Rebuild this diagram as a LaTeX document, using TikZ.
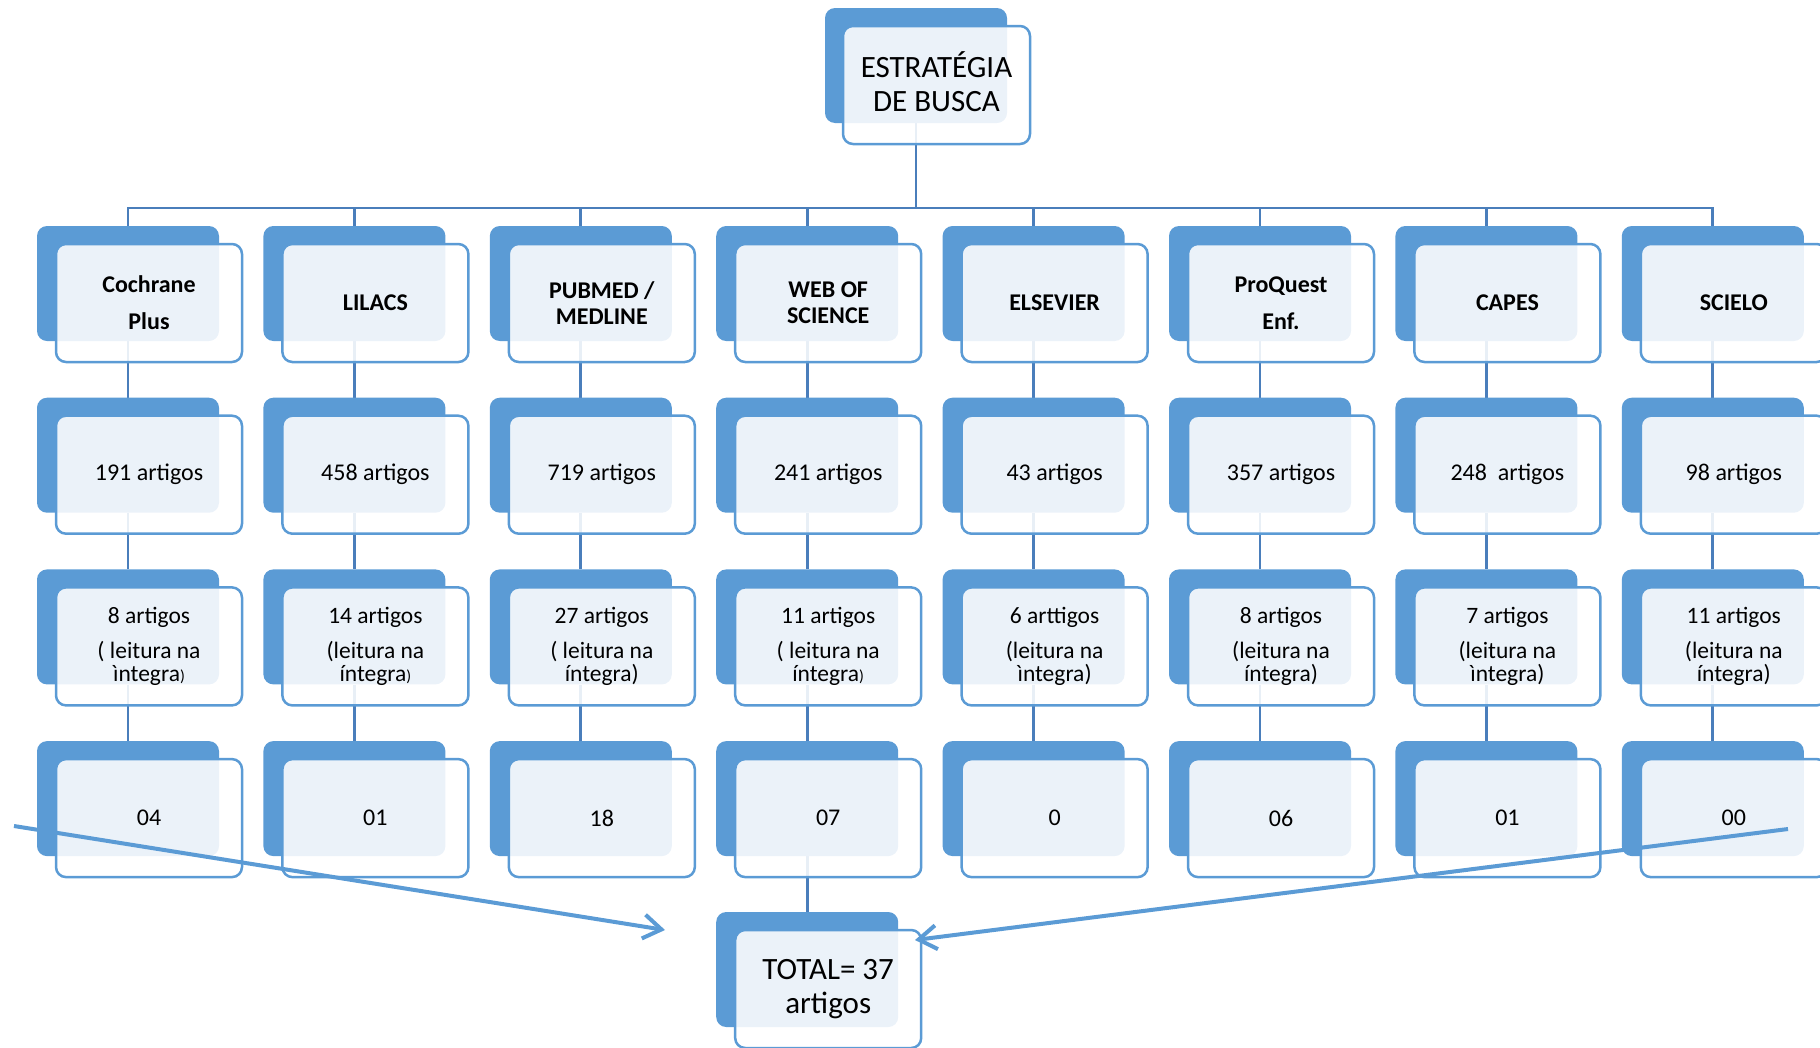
\documentclass[tikz,border=0pt]{standalone}
\usepackage{fontspec}
\setmainfont{Carlito}
\usetikzlibrary{arrows.meta}
\definecolor{boxblue}{RGB}{91,155,213}
\definecolor{linkblue}{RGB}{74,126,187}
\pgfdeclarelayer{bg}
\pgfsetlayers{bg,main}
\tikzset{
  backbox/.style={fill=boxblue, draw=none, rounded corners=10pt, minimum width=182pt, minimum height=115pt, inner sep=0pt},
  frontbox/.style={draw=boxblue, line width=2.5pt, fill=white, fill opacity=0.88, text opacity=1, draw opacity=1,
    rounded corners=10pt, minimum width=186pt, minimum height=118pt, inner sep=0pt, align=center, text=black},
  link/.style={draw=linkblue, line width=2.8pt},
  bigarrow/.style={draw=boxblue, line width=4pt, -{Straight Barb[length=18pt,width=24pt,line width=4pt]}},
  dbwide/.style={font={\fontsize{24}{36.7}\selectfont\bfseries}},
  dbtight/.style={font={\fontsize{24}{25.7}\selectfont\bfseries}},
  countfont/.style={font={\fontsize{24}{29}\selectfont}},
  readfont/.style={font={\fontsize{23.5}{23}\selectfont}},
  bigfont/.style={font={\fontsize{31}{34}\selectfont}},
}
\newcommand\mkbox[5]{%
  \node[backbox] (#1-b) at (#2,#3) {};
  \node[frontbox,#4] (#1) at ([xshift=21pt,yshift=-19.5pt]#1-b.center) {#5};
}
\newcommand\smp{{\fontsize{16}{16}\selectfont)}}
\begin{document}
\begin{tikzpicture}[x=1pt,y=-1pt]
\useasboundingbox (0,0) rectangle (1820,1047);
% top box
\node[backbox] (top-b) at (916,65.5) {};
\node[frontbox,bigfont,minimum width=187pt] (top) at ([xshift=20.5pt,yshift=-19.5pt]top-b.center) {ESTRATÉGIA\\DE BUSCA\\[-27pt]\mbox{}};
\coordinate (bar) at (916,208);
% row 1
\mkbox{c1r1}{128}{283.5}{dbwide}{Cochrane\\Plus}
\mkbox{c2r1}{354.4}{283.5}{dbwide}{LILACS}
\mkbox{c3r1}{580.8}{283.5}{dbtight}{PUBMED /\\MEDLINE}
\mkbox{c4r1}{807.2}{283.5}{dbtight}{WEB OF\\SCIENCE}
\mkbox{c5r1}{1033.6}{283.5}{dbwide}{ELSEVIER}
\mkbox{c6r1}{1260}{283.5}{dbwide}{ProQuest\\Enf.}
\mkbox{c7r1}{1486.4}{283.5}{dbwide}{CAPES}
\mkbox{c8r1}{1712.8}{283.5}{dbwide}{SCIELO}
% row 2
\mkbox{c1r2}{128}{455.2}{countfont}{191 artigos}
\mkbox{c2r2}{354.4}{455.2}{countfont}{458 artigos}
\mkbox{c3r2}{580.8}{455.2}{countfont}{719 artigos}
\mkbox{c4r2}{807.2}{455.2}{countfont}{241 artigos}
\mkbox{c5r2}{1033.6}{455.2}{countfont}{43 artigos}
\mkbox{c6r2}{1260}{455.2}{countfont}{357 artigos}
\mkbox{c7r2}{1486.4}{455.2}{countfont}{248~~artigos}
\mkbox{c8r2}{1712.8}{455.2}{countfont}{98 artigos}
% row 3
\mkbox{c1r3}{128}{626.9}{readfont}{8 artigos\\[12.3pt]( leitura na\\ìntegra\smp}
\mkbox{c2r3}{354.4}{626.9}{readfont}{14 artigos\\[12.3pt](leitura na\\íntegra\smp}
\mkbox{c3r3}{580.8}{626.9}{readfont}{27 artigos\\[12.3pt]( leitura na\\íntegra)}
\mkbox{c4r3}{807.2}{626.9}{readfont}{11 artigos\\[12.3pt]( leitura na\\íntegra\smp}
\mkbox{c5r3}{1033.6}{626.9}{readfont}{6 arttigos\\[12.3pt](leitura na\\ìntegra)}
\mkbox{c6r3}{1260}{626.9}{readfont}{8 artigos\\[12.3pt](leitura na\\íntegra)}
\mkbox{c7r3}{1486.4}{626.9}{readfont}{7 artigos\\[12.3pt](leitura na\\ìntegra)}
\mkbox{c8r3}{1712.8}{626.9}{readfont}{11 artigos\\[12.3pt](leitura na\\íntegra)}
% row 4
\mkbox{c1r4}{128}{798.6}{countfont}{04}
\mkbox{c2r4}{354.4}{798.6}{countfont}{01}
\mkbox{c3r4}{580.8}{798.6}{countfont}{18}
\mkbox{c4r4}{807.2}{798.6}{countfont}{07}
\mkbox{c5r4}{1033.6}{798.6}{countfont}{0}
\mkbox{c6r4}{1260}{798.6}{countfont}{06}
\mkbox{c7r4}{1486.4}{798.6}{countfont}{01}
\mkbox{c8r4}{1712.8}{798.6}{countfont}{00}
% total
\node[backbox] (total-b) at (807.2,969.5) {};
\node[frontbox,bigfont] (total) at ([xshift=21pt,yshift=-19.5pt]total-b.center) {TOTAL= 37\\artigos};
% connectors
\begin{pgfonlayer}{bg}
\draw[link] (top-b.south) -- (bar);
\draw[link] (c1r1-b.north) -- (c1r1-b.north |- bar) -- (c8r1-b.north |- bar) -- (c8r1-b.north);
\foreach \c in {2,...,7}{
  \draw[link] (c\c r1-b.north) -- (c\c r1-b.north |- bar);
}
\foreach \c in {1,...,8}{
  \draw[link] (c\c r1-b.south) -- (c\c r2-b.north);
  \draw[link] (c\c r2-b.south) -- (c\c r3-b.north);
  \draw[link] (c\c r3-b.south) -- (c\c r4-b.north);
}
\draw[link] (c4r4-b.south) -- (total-b.north);
\end{pgfonlayer}
% arrows
\coordinate (la) at (14,826);
\coordinate (lb) at (665,930);
\coordinate (ra) at (1788,829);
\coordinate (rb) at (915,940);
\draw[bigarrow] (la) -- (lb);
\draw[bigarrow] (ra) -- (rb);
\end{tikzpicture}
\end{document}
